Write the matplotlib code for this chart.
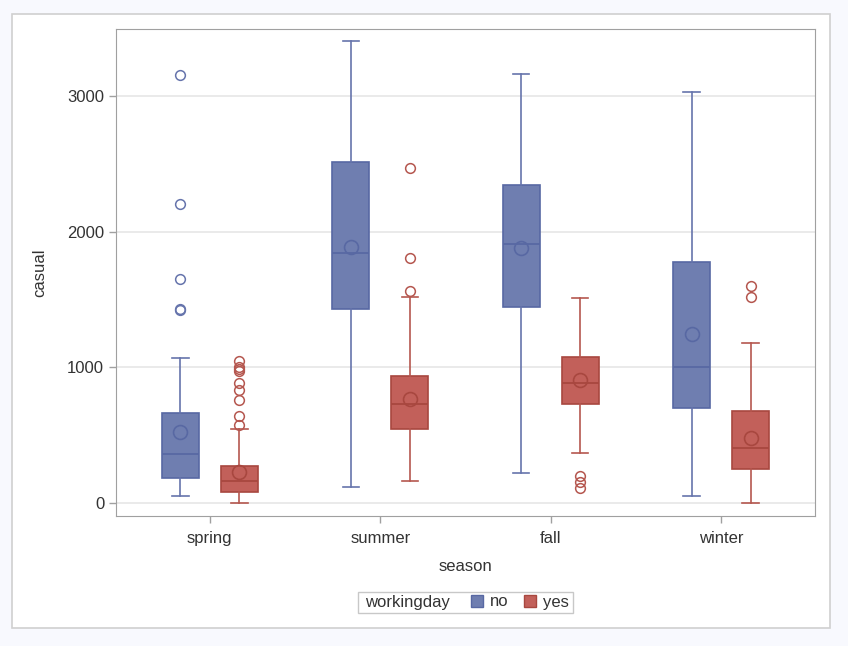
import matplotlib
matplotlib.use("Agg")
import matplotlib.pyplot as plt
from matplotlib.patches import Rectangle, Patch

# --- data (casual rentals by season / workingday) ---
seasons = ["spring", "summer", "fall", "winter"]
groups = ["no", "yes"]

# per season: [no, yes]
q1 = [[187, 81], [1427, 543], [1444, 730], [698, 253]]
median = [[359, 162], [1840, 730], [1911, 887], [1002, 408]]
q3 = [[661, 275], [2515, 936], [2343, 1073], [1774, 680]]
whis_lo = [[52, 2], [118, 160], [219, 366], [52, 0]]
whis_hi = [[1066, 543], [3405, 1516], [3159, 1508], [3029, 1177]]
means = [[526, 231], [1884, 764], [1882, 904], [1248, 481]]
outliers = [
    [[3154, 2203, 1653, 1430, 1422], [1049, 1000, 990, 975, 882, 833, 759, 641, 575]],
    [[], [2466, 1803, 1562]],
    [[], [201, 157, 113]],
    [[], [1602, 1516]],
]

fill_colors = ["#6F7EB0", "#C2605A"]
edge_colors = ["#5868A3", "#A8473F"]
line_colors = ["#6674AC", "#B5574F"]

plt.rcParams["font.family"] = ["Liberation Sans", "DejaVu Sans"]
plt.rcParams["font.size"] = 12
text_color = "#333333"

W, H = 848, 646
fig = plt.figure(figsize=(W / 100, H / 100), dpi=100, facecolor="#F8F9FE")

# white panel with light border, behind the axes
fig.patches.append(Rectangle((12 / W, 1 - 628 / H), 818 / W, 614 / H,
                             transform=fig.transFigure, facecolor="white",
                             edgecolor="#D0D0D0", linewidth=1.2, zorder=-1))

ax = fig.add_axes([116 / W, 1 - 516 / H, 699 / W, 487 / H])

offset = 0.173
width = 0.215
for s in range(len(seasons)):
    for g in range(len(groups)):
        stats = [{
            "med": median[s][g], "q1": q1[s][g], "q3": q3[s][g],
            "whislo": whis_lo[s][g], "whishi": whis_hi[s][g],
            "mean": means[s][g], "fliers": outliers[s][g],
        }]
        pos = s + (offset if g else -offset)
        ax.bxp(stats, positions=[pos], widths=width, patch_artist=True,
               showmeans=True, capwidths=width * 0.45,
               boxprops=dict(facecolor=fill_colors[g], edgecolor=edge_colors[g], linewidth=1.2),
               medianprops=dict(color=edge_colors[g], linewidth=1.3),
               whiskerprops=dict(color=line_colors[g], linewidth=1.2),
               capprops=dict(color=line_colors[g], linewidth=1.2),
               meanprops=dict(marker="o", markerfacecolor="none",
                              markeredgecolor=edge_colors[g], markersize=10,
                              markeredgewidth=1.2),
               flierprops=dict(marker="o", markerfacecolor="none",
                               markeredgecolor=line_colors[g], markersize=7,
                               markeredgewidth=1.1))

ax.set_xlim(-0.55, 3.55)
ax.set_ylim(-96, 3493)
ax.set_xticks(range(len(seasons)))
ax.set_xticklabels(seasons)
ax.set_yticks([0, 1000, 2000, 3000])
ax.yaxis.grid(True, color="#E6E6E6", linewidth=1.2)
ax.set_axisbelow(True)
for sp in ax.spines.values():
    sp.set_color("#A0A0A0")
ax.tick_params(colors="#A0A0A0", labelcolor=text_color, length=5, width=1)
ax.tick_params(axis="x", pad=6)
ax.set_xlabel("season", color=text_color, labelpad=9)
ax.set_ylabel("casual", color=text_color, labelpad=14)

# legend: frame + title text + two swatches, laid out inline like the reference
leg_y = 1 - 602 / H
fig.patches.append(Rectangle((358 / W, 1 - 613 / H), 215 / W, 21 / H,
                             transform=fig.transFigure, facecolor="white",
                             edgecolor="#C8C8C8", linewidth=1.0, zorder=1))
fig.text(365 / W, leg_y, "workingday", ha="left", va="center", color=text_color, zorder=2)
handles = [Patch(facecolor=fill_colors[g], edgecolor=edge_colors[g], label=groups[g])
           for g in range(len(groups))]
leg = fig.legend(handles=handles, ncol=2, loc="center left",
                 bbox_to_anchor=(471 / W, leg_y), frameon=False,
                 borderpad=0, borderaxespad=0,
                 handlelength=0.72, handleheight=0.72, handletextpad=0.42,
                 columnspacing=0.9, fontsize=12)
leg.set_zorder(3)
for t in leg.get_texts():
    t.set_color(text_color)

fig.savefig("out.png", dpi=100, facecolor=fig.get_facecolor())
